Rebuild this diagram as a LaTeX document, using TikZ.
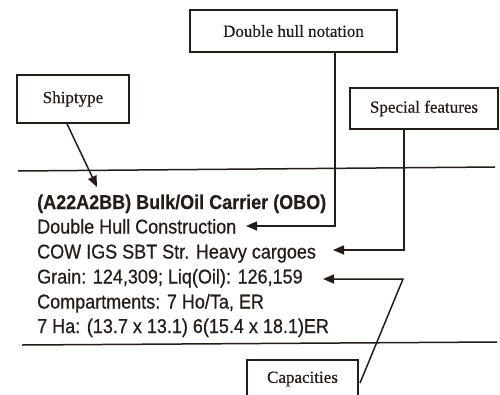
\documentclass[tikz,border=0pt]{standalone}
\usepackage{fontspec}
\setmainfont{Liberation Serif}
\newfontfamily\arialfont[FakeStretch=0.9,FakeBold=0.6]{Liberation Sans}
\newfontfamily\arialbf[FakeStretch=0.9,FakeBold=0.3]{Liberation Sans Bold}
\newfontfamily\labelfont[FakeBold=0.5]{Liberation Serif}
\usetikzlibrary{arrows.meta,calc}
\definecolor{ink}{RGB}{38,28,24}
\begin{document}
\begin{tikzpicture}[x=1pt,y=-1pt,
  ink/.style={draw=ink,line width=1.5pt},
  labelbox/.style={ink,text=ink,font=\labelfont\fontsize{17}{20}\selectfont,inner sep=0pt},
  entry/.style={anchor=base west,text=ink,inner sep=0pt,font=\arialfont\fontsize{20}{22}\selectfont},
  conn/.style={ink,-{Triangle[length=11pt,width=9pt]}}]
\useasboundingbox (0,0) rectangle (500,394);
\clip (0,0) rectangle (500,394);
\fill[white] (0,0) rectangle (500,394);
% label boxes
\node[labelbox,minimum width=207pt,minimum height=42pt] (dh) at (293.5,31) {Double hull notation};
\node[labelbox,minimum width=112pt,minimum height=48pt] (ship) at (73,99) {Shiptype};
\node[labelbox,minimum width=148pt,minimum height=41pt] (sf) at (424,108.5) {Special features};
\node[labelbox,minimum width=111pt,minimum height=38pt] (cap) at (302.5,379) {Capacities};
% rules
\draw[ink] (18,171) -- (495,167);
\draw[ink] (22,345) -- (497,342);
% entry text
\node[entry,font=\arialbf\fontsize{20}{22}\selectfont] (l1) at (37,209) {(A22A2BB) Bulk/Oil Carrier (OBO)};
\node[entry] (l2) at (37,233.5) {Double Hull Construction};
\node[entry] (l3) at (37,258.5) {COW IGS SBT Str. Heavy cargoes};
\node[entry] (l4) at (37,283.5) {Grain: 124,309; Liq(Oil): 126,159};
\node[entry] (l5) at (37,308.5) {Compartments: 7 Ho/Ta, ER};
\node[entry] (l6) at (37,333) {7 Ha: (13.7 x 13.1) 6(15.4 x 18.1)ER};
% connector points
\coordinate (shiptip) at (97,187);
\coordinate (dhx) at (335,0);
\coordinate (dhtip) at (246,226);
\coordinate (sfx) at (404,0);
\coordinate (sftip) at (333,250);
\coordinate (capstart) at (360,383);
\coordinate (capbend) at (403,279);
\coordinate (captip) at (323,279);
% connectors
\draw[conn] ([xshift=-6pt]ship.south) -- (shiptip);
\draw[conn] (dh.south -| dhx) |- (dhtip);
\draw[conn] (sf.south -| sfx) |- (sftip);
\draw[conn] (capstart) -- (capbend) -- (captip);
\end{tikzpicture}
\end{document}
